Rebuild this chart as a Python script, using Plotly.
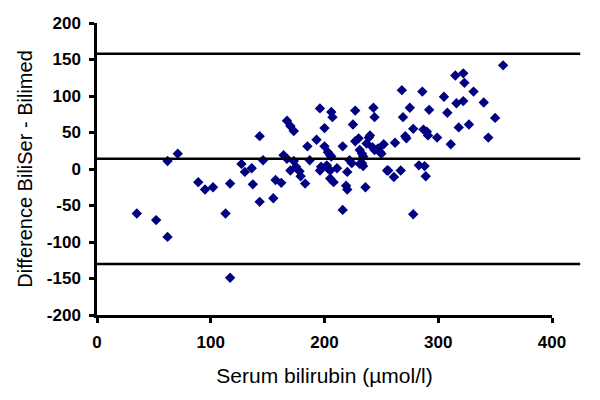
import plotly.graph_objects as go

serum = [35, 52, 62, 62, 71, 89, 95, 102, 113, 117, 117, 127, 130, 136, 137,
         143, 146, 143, 155, 157, 162, 167, 170, 173, 164, 167, 170, 173, 175,
         178, 179, 183, 185, 187, 193, 196, 200, 200, 197, 202, 205, 211, 205,
         208, 206, 207, 203, 206, 216, 220, 222, 219, 220, 216, 227, 225, 227,
         230, 231, 234, 233, 234, 236, 239, 242, 243, 244, 247, 252, 255, 250,
         262, 256, 261, 267, 268, 286, 275, 269, 292, 305, 308, 315, 316, 278,
         271, 272, 287, 290, 291, 299, 311, 283, 288, 289, 278, 318, 357, 322,
         323, 331, 322, 340, 350, 327, 344,
         237, 244, 249, 233, 224, 231, 205, 203, 240, 196]
difference = [-61, -70, -93, 11, 21, -18, -28, -25, -61, -20, -149, 7, -4, 1, -21,
              45, 12, -45, -40, -15, -19, 66, 59, 52, 19, 14, -2, 11, 3,
              -3, -10, -20, 31, 12, 40, 83, 56, 31, 3, 5, -2, 1, -13,
              -18, 78, 71, 23, 17, 31, -4, 12, -23, -28, -56, 80, 61, 38,
              42, 26, 17, 8, 4, -25, 43, 30, 84, 71, 28, 34, -2, 21,
              36, -2, -11, -2, 108, 106, 84, 71, 81, 99, 77, 128, 90, 55,
              45, 42, 54, 51, 46, 43, 34, 5, 4, -10, -62, 57, 142, 131,
              118, 106, 93, 91, 70, 61, 43,
              35, 26, 23, 21, 8, 7, 19, 1, 46, -2]

limit_levels = [158, 14, -130]
x_ticks = [0, 100, 200, 300, 400]
y_ticks = [-200, -150, -100, -50, 0, 50, 100, 150, 200]

fig = go.Figure()
fig.add_trace(go.Scatter(
    x=serum, y=difference, mode="markers",
    marker=dict(symbol="diamond", size=8, color="#000080",
                line=dict(width=0)),
    cliponaxis=False, showlegend=False, hoverinfo="skip",
))

for lv in limit_levels:
    fig.add_shape(type="line", xref="paper", yref="y",
                  x0=0, x1=1.062, y0=lv, y1=lv,
                  line=dict(color="black", width=2.5))

font_family = "Liberation Sans, Arial, sans-serif"
fig.update_layout(
    width=600, height=400,
    margin=dict(l=97, r=48, t=23, b=85),
    plot_bgcolor="white", paper_bgcolor="white",
    font=dict(family=font_family, color="black"),
)
fig.update_xaxes(
    range=[0, 400], tickvals=x_ticks, ticktext=[str(v) for v in x_ticks],
    showgrid=False, zeroline=False,
    showline=True, linecolor="black", linewidth=2.5,
    ticks="outside", ticklen=5, tickwidth=2.5, tickcolor="black",
    ticklabelstandoff=5,
    tickfont=dict(size=17, weight="bold", family=font_family),
    title=dict(text="Serum bilirubin (µmol/l)",
               font=dict(size=21, family=font_family), standoff=18),
    automargin=False,
)
fig.update_yaxes(
    range=[-200, 200], tickvals=y_ticks, ticktext=[str(v) for v in y_ticks],
    showgrid=False, zeroline=False,
    showline=True, linecolor="black", linewidth=2.5,
    ticks="outside", ticklen=5, tickwidth=2.5, tickcolor="black",
    ticklabelstandoff=5,
    tickfont=dict(size=17, weight="bold", family=font_family),
    title=dict(text="Difference BiliSer - Bilimed",
               font=dict(size=20, family=font_family), standoff=9),
    automargin=False,
)

fig.write_html("out.html",
               config={"displayModeBar": False},
               post_script="document.body.style.margin='0';")
